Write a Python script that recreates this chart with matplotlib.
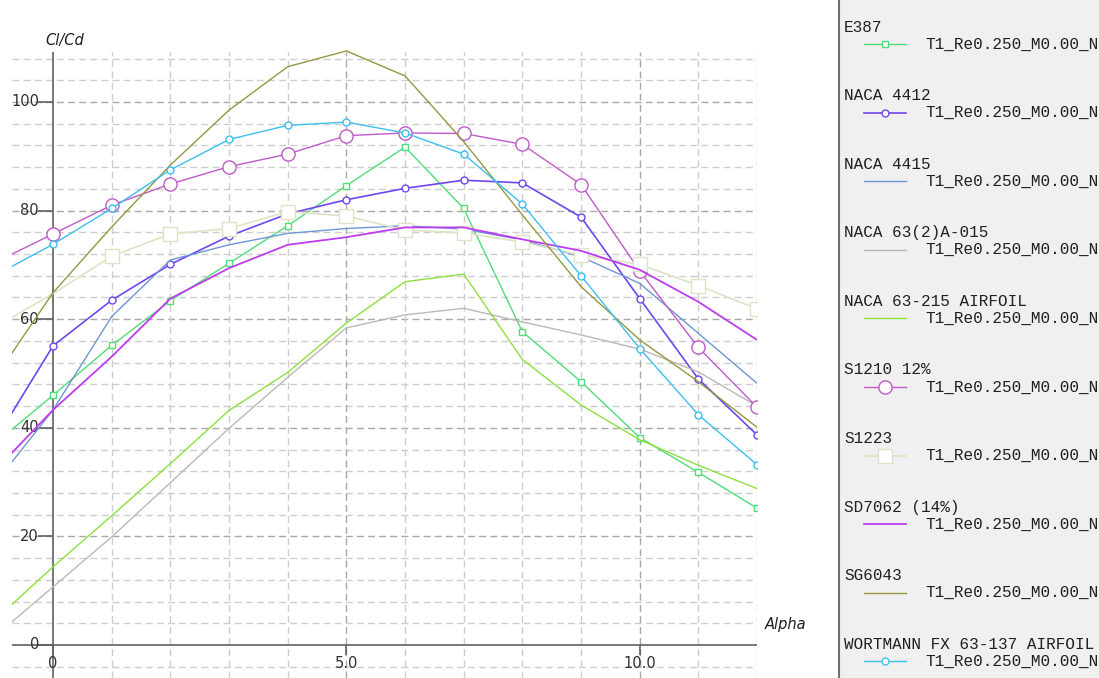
import matplotlib
matplotlib.use("Agg")
import matplotlib.pyplot as plt
from matplotlib.lines import Line2D
from matplotlib.patches import Rectangle

# angle of attack (deg)
alpha = [-1, 0, 1, 2, 3, 4, 5, 6, 7, 8, 9, 10, 11, 12]
alpha_sg = [-1, 0, 1, 2, 3, 4, 5, 6, 6.5, 7, 8, 9, 10, 11, 12]

# Cl/Cd polars, Re 0.250
e387 = [37.0, 46.0, 55.2, 63.4, 70.3, 77.2, 84.6, 91.7, 80.4, 57.7, 48.5, 38.2, 31.8, 25.2]
naca4412 = [37.5, 55.1, 63.5, 70.1, 75.3, 79.4, 82.0, 84.1, 85.6, 85.1, 78.8, 63.8, 49.0, 38.7]
naca4415 = [29.6, 43.3, 60.5, 70.9, 73.7, 75.8, 76.7, 77.2, 76.6, 74.6, 71.5, 66.6, 57.4, 48.2]
naca632a015 = [1.5, 10.7, 19.9, 29.9, 39.9, 49.3, 58.4, 60.8, 62.0, 59.5, 57.1, 54.5, 50.3, 44.0]
naca63215 = [4.5, 14.4, 23.8, 33.4, 43.2, 50.2, 59.3, 66.9, 68.3, 52.6, 44.2, 37.8, 33.1, 28.8]
s1210 = [70.4, 75.7, 81.0, 84.9, 88.1, 90.4, 93.8, 94.3, 94.2, 92.2, 84.8, 68.9, 54.8, 43.8]
s1223 = [58.5, 64.7, 71.6, 75.7, 76.7, 79.8, 79.0, 76.4, 75.9, 74.2, 71.8, 70.1, 66.2, 61.9]
sd7062 = [32.0, 43.3, 53.1, 63.8, 69.4, 73.7, 75.1, 76.9, 76.9, 74.7, 72.6, 69.1, 63.2, 56.2]
sg6043 = [49.0, 64.9, 77.0, 88.4, 98.5, 106.5, 109.4, 104.8, 98.8, 92.7, 79.2, 66.0, 56.2, 48.5, 40.1]
wortmann = [68.0, 73.8, 80.4, 87.5, 93.1, 95.7, 96.3, 94.3, 90.4, 81.2, 68.0, 54.6, 42.4, 33.2]

names = ["E387", "NACA 4412", "NACA 4415", "NACA 63(2)A-015", "NACA 63-215 AIRFOIL",
         "S1210 12%", "S1223", "SD7062 (14%)", "SG6043", "WORTMANN FX 63-137 AIRFOIL"]
polar_name = "T1_Re0.250_M0.00_N"

W, H = 1099, 678
fig = plt.figure(figsize=(W / 100, H / 100), dpi=100)
fig.patch.set_facecolor("white")

def fx(px):
    return px / W

def fy(py):
    return 1 - py / H

# pixel -> data: alpha = (x-53)/58.7, value = (645-y)/5.43
ymin, ymax = -6.08, 110.5
ax = fig.add_axes([fx(12), 0, fx(757) - fx(12), fy(645 - ymax * 5.43)])
ax.set_xlim(-0.70, 12.0)
ax.set_ylim(ymin, ymax)
ax.axis("off")

gtop = 109.2
for v in range(-4, 109, 4):
    major = v % 20 == 0
    if v == 0:
        continue
    ax.hlines(v, -0.70, 12, colors="#a8a8a8" if major else "#cdcdcd",
              linestyles=(0, (5, 3)), linewidth=1.0, zorder=1)
for a in range(1, 13):
    major = a % 5 == 0
    ax.vlines(a, ymin, gtop, colors="#a8a8a8" if major else "#cdcdcd",
              linestyles=(0, (5, 3)), linewidth=1.0, zorder=1)

# axes lines
ax.hlines(0, -0.70, 12, colors="#606060", linewidth=1.2, zorder=2)
ax.vlines(0, ymin, gtop, colors="#606060", linewidth=1.2, zorder=2)
for v in range(0, 101, 20):
    ax.hlines(v, -0.26, 0, colors="#606060", linewidth=1.2, zorder=2)
    ax.text(-0.24, v, str(v), ha="right", va="center", fontsize=10.5, color="#303030")
for a, lab in [(0, "0"), (5, "5.0"), (10, "10.0")]:
    ax.vlines(a, -1.9, 0, colors="#606060", linewidth=1.2, zorder=2)
    ax.text(a, -3.5, lab, ha="center", va="center", fontsize=10.5, color="#303030")

series = [
    (alpha, e387, "#50dc78", "s", 5, 1.0, slice(1, None)),
    (alpha, naca4412, "#6e46f0", "o", 5, 1.2, slice(1, None)),
    (alpha, naca4415, "#6e96d2", None, 0, 1.0, None),
    (alpha, naca632a015, "#bdb8b2", None, 0, 1.0, None),
    (alpha, naca63215, "#8ce03c", None, 0, 1.0, None),
    (alpha, s1210, "#be5ac8", "o", 9.5, 1.0, slice(1, None)),
    (alpha, s1223, "#dfe3c5", "s", 9.5, 1.2, slice(2, None)),
    (alpha, sd7062, "#be3cf0", None, 0, 1.3, None),
    (alpha_sg, sg6043, "#969640", None, 0, 1.0, None),
    (alpha, wortmann, "#3cbef0", "o", 5, 1.0, slice(1, None)),
]

for xs, ys, col, mk, ms, lw, me in series:
    ax.plot(xs, ys, color=col, lw=lw, marker=mk, ms=ms, mfc="white", mec=col,
            mew=1.0, markevery=me, zorder=3)

fig.text(fx(45), fy(41), "Cl/Cd", style="italic", fontsize=10.5, ha="left", va="center", color="#202020")
fig.text(fx(765), fy(625), "Alpha", style="italic", fontsize=10.5, ha="left", va="center", color="#202020")

# legend panel
fig.add_artist(Rectangle((fx(839), 0), 1 - fx(839), 1, transform=fig.transFigure,
                         facecolor="#f0f0f0", edgecolor="none", zorder=0))
fig.add_artist(Line2D([fx(839), fx(839)], [0, 1], transform=fig.transFigure,
                      color="#707070", lw=1.5))
for i, (name, s) in enumerate(zip(names, series)):
    ny = 27 + i * 68.6
    col, mk, ms = s[2], s[3], s[4]
    fig.text(fx(844), fy(ny), name, family="Liberation Mono", fontsize=11.5, ha="left",
             va="center", color="#202020")
    fig.add_artist(Line2D([fx(864), fx(885), fx(906)], [fy(ny + 17)] * 3,
                          transform=fig.transFigure, color=col, lw=s[5],
                          marker=mk, ms=ms, mfc="white", mec=col, mew=1.0, markevery=[1]))
    fig.text(fx(925), fy(ny + 17), polar_name, family="Liberation Mono", fontsize=11.5,
             ha="left", va="center", color="#202020")

fig.savefig("out.png", dpi=100)
